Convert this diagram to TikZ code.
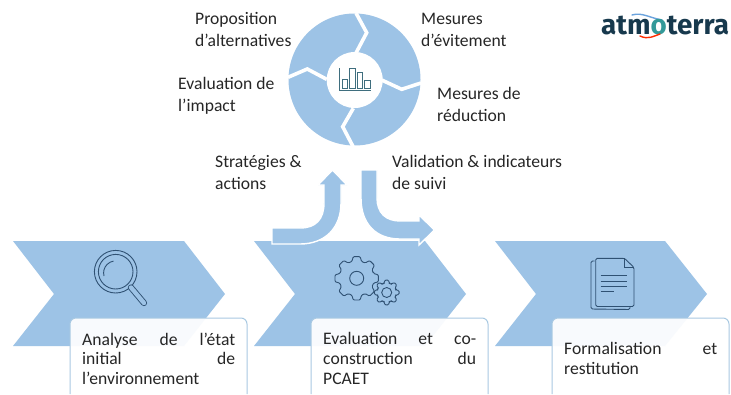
\documentclass[tikz,border=0pt]{standalone}
\usepackage{fontspec}
\setmainfont{Carlito}
\newfontfamily\logofont{Fira Sans}
\usetikzlibrary{calc}
\definecolor{shapeblue}{HTML}{9DC3E6}
\definecolor{boxedge}{HTML}{A9C9E2}
\definecolor{inkdark}{HTML}{262626}
\definecolor{iconline}{HTML}{2F5173}
\definecolor{chartline}{HTML}{3F6E7E}
\definecolor{logonavy}{HTML}{17394D}
\tikzset{
  x=1pt,y=-1pt,
  lbl/.style={anchor=west,inner sep=0pt,text=inkdark,align=left,font=\fontsize{17.6}{22}\selectfont},
  boxtxt/.style={anchor=north west,inner sep=0pt,text=inkdark,font=\fontsize{17.6}{19.6}\selectfont},
  chev/.style={fill=shapeblue},
  bigarrow/.style={fill=shapeblue,draw=white,line width=1.4pt,line join=miter},
  txtbox/.style={fill=white,fill opacity=.93,draw=boxedge,line width=1pt,rounded corners=6pt},
  icon/.style={draw=iconline,line width=.9pt,fill=none},
  gap/.style={draw=white,line width=3.6pt,line join=miter,line cap=butt},
  chart/.style={draw=chartline,line width=.9pt}
}
\newcommand{\gearat}[4]{% cx cy root tip
  \draw[icon,rounded corners=1.1pt] ([shift={(#1,#2)}]-16:#3)
    \foreach \a in {0,45,...,315}{ -- ([shift={(#1,#2)}]\a-16:#3) -- ([shift={(#1,#2)}]\a-9:#4) -- ([shift={(#1,#2)}]\a+9:#4) -- ([shift={(#1,#2)}]\a+16:#3)} -- cycle;
}
\begin{document}
\begin{tikzpicture}
\useasboundingbox[fill=white] (0,0) rectangle (731,394);
% chevrons
\path[chev] (13,241) -- (184,241) -- (225,294) -- (184,346) -- (13,346) -- (54,294) -- cycle;
\path[chev] (254,241) -- (425,241) -- (466,294) -- (425,346) -- (254,346) -- (295,294) -- cycle;
\path[chev] (495,241) -- (665,241) -- (707,294) -- (665,346) -- (495,346) -- (536,294) -- cycle;
% big arrows
\path[bigarrow] (272,244) -- (300,244) .. controls (325,244) and (341,228) .. (341,203) -- (341,185) -- (347,185) -- (332.5,170) -- (318,185) -- (324,185) -- (324,203) .. controls (324,219) and (316,228) .. (300,228) -- (272,228) -- cycle;
\path[bigarrow] (361,170) -- (377,170) -- (377,198) .. controls (377,213) and (386,221) .. (400,221) -- (419,221) -- (419,215) -- (434.5,230) -- (419,245) -- (419,239) -- (400,239) .. controls (376,239) and (361,224) .. (361,198) -- cycle;
% wheel
\path[fill=shapeblue] (354.5,79.5) circle[radius=66];
\draw[gap] (356,13) -- (366.7,32.7) -- (356,53);
\draw[gap] (421,83) -- (401.7,89.3) -- (381.7,80);
\draw[gap] (353.3,147) -- (342.7,126.7) -- (353.3,108.3);
\draw[gap] (288,77.3) -- (307.3,69) -- (326.7,79.3);
\path[fill=white] (354.7,80) circle[radius=28];
% chart icon
\draw[chart] (339.3,68.3) -- (339.3,90.7) -- (371,90.7);
\draw[chart] (342.7,79.3) rectangle (347.7,88.3);
\draw[chart] (349.3,68.3) rectangle (355,88.3);
\draw[chart] (357.3,72.7) rectangle (362.7,88.3);
\draw[chart] (364.3,80) rectangle (370,88.3);
% magnifier
\draw[icon] (115.7,271.7) circle[radius=21.3];
\draw[icon] (115.7,271.7) circle[radius=17.3];
\draw[icon] (104,276) arc[start angle=165,end angle=260,radius=12];
\draw[iconline,line width=6.2pt,line cap=round] (131,287.5) -- (144,303);
\draw[shapeblue,line width=4.4pt,line cap=round] (131,287.5) -- (144,303);
% gears
\gearat{356.7}{278.3}{17.5}{22}
\draw[icon] (356.7,278.3) circle[radius=7];
\gearat{386.7}{292.5}{9.5}{12.5}
\draw[icon] (386.7,292.5) circle[radius=5];
% document icon
\draw[icon,rounded corners=1.5pt] (594.5,261) -- (591,261) -- (591,309) -- (630,309.5) -- (630,306);
\draw[icon,rounded corners=1.5pt] (595.7,258.3) -- (624.5,258.3) -- (634,267.5) -- (634,306.5) -- (595.7,306.5) -- cycle;
\draw[icon] (624.5,258.3) -- (624.5,267.5) -- (634,267.5);
\draw[icon] (600.7,275.7) -- (627.3,275.7);
\draw[icon] (600.7,281) -- (627.3,281);
\draw[icon] (600.7,286.3) -- (627.3,286.3);
\draw[icon] (600.7,291.7) -- (614,291.7);
% text boxes
\path[txtbox] (70,394) -- (70,318) -- (247,318) -- (247,394);
\path[txtbox] (311,394) -- (311,318) -- (488,318) -- (488,394);
\path[txtbox] (552,394) -- (552,318) -- (729,318) -- (729,394);
\node[boxtxt] (boxa) at (82,332.5) {\parbox[t]{153pt}{\parindent=0pt Analyse\hfill de\hfill l’état\\initial\hfill de\\l’environnement}};
\node[boxtxt] (boxb) at (323,332.5) {\parbox[t]{153pt}{\parindent=0pt Evaluation\hfill et\hfill co-\\construction\hfill du\\PCAET}};
\node[boxtxt] (boxc) at (564,342.5) {\parbox[t]{153pt}{\parindent=0pt Formalisation\hfill et\\restitution}};
% labels
\node[lbl] (prop) at (195,29) {Proposition\\d’alternatives};
\node[lbl] (impact) at (178,95.5) {Evaluation de\\l’impact};
\node[lbl] (evit) at (421,29.5) {Mesures\\d’évitement};
\node[lbl] (reduc) at (437,104) {Mesures de\\réduction};
\node[lbl] (strat) at (215,172.5) {Stratégies \&\\actions};
\node[lbl] (valid) at (392,172.5) {Validation \& indicateurs\\de suivi};
% logo
\draw[line width=1.4pt,color=cyan!60!blue!60,line cap=round] (632,15) .. controls (642,12) and (650,18) .. (662,20);
\node[anchor=west,inner sep=0pt,text=logonavy,font=\logofont\bfseries\fontsize{27.8}{27.8}\selectfont] (logo) at (601,26) {atm\textcolor{teal!80}{o}terra};
\draw[line width=1.4pt,color=red!65!orange,line cap=round] (640,36) .. controls (648,40) and (654,36) .. (660,34);
\end{tikzpicture}
\end{document}
